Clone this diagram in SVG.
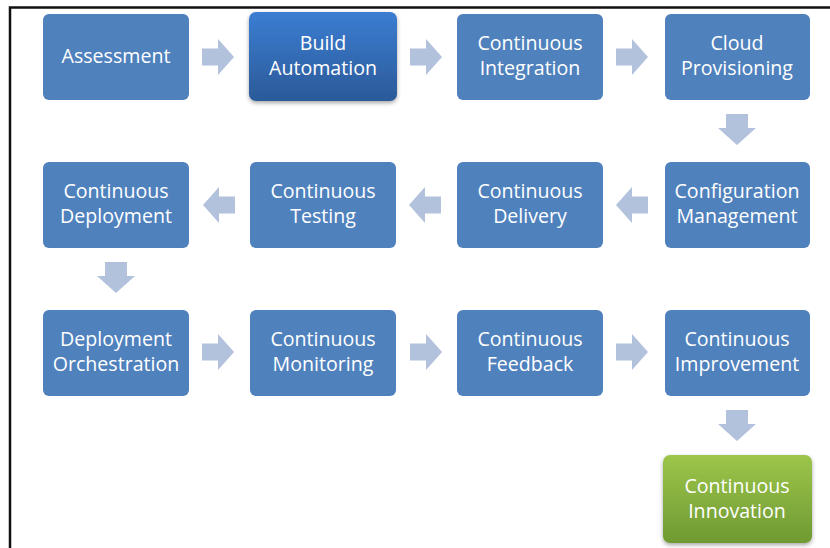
<svg xmlns="http://www.w3.org/2000/svg" width="830" height="548" viewBox="0 0 830 548">
<defs>
<linearGradient id="gBlue" x1="0" y1="0" x2="0" y2="1">
<stop offset="0" stop-color="#3B7DD2"/>
<stop offset="1" stop-color="#2B5A98"/>
</linearGradient>
<linearGradient id="gGreen" x1="0" y1="0" x2="0" y2="1">
<stop offset="0" stop-color="#9DC54B"/>
<stop offset="1" stop-color="#6E9A32"/>
</linearGradient>
<filter id="sh" x="-10%" y="-10%" width="120%" height="130%">
<feDropShadow dx="0" dy="2" stdDeviation="2" flood-color="#000" flood-opacity="0.35"/>
</filter>
<path id="arR" d="M0,-8.5 H16 V-18 L32,0 L16,18 V8.5 H0 Z"/>
<path id="arD" d="M-11,0 H11 V14 H19 L0,31 L-19,14 H-11 Z"/>
</defs>
<style>
.n{fill:#4F81BD}
.t{font-family:"Open Sans","DejaVu Sans",sans-serif;font-size:19.6px;fill:#fff;text-anchor:middle}
.a{fill:#B2C2DC}
</style>
<rect width="830" height="548" fill="#fff"/>
<path d="M10,548 V7.5 H830" fill="none" stroke="#111" stroke-width="2.5"/>
<g id="connectors">
<use href="#arR" class="a" x="202" y="57"/>
<use href="#arR" class="a" x="410" y="57"/>
<use href="#arR" class="a" x="616" y="57"/>
<use href="#arD" class="a" x="737" y="114"/>
<use href="#arR" class="a" transform="translate(648,205) scale(-1,1)"/>
<use href="#arR" class="a" transform="translate(441,205) scale(-1,1)"/>
<use href="#arR" class="a" transform="translate(235,205) scale(-1,1)"/>
<use href="#arD" class="a" x="116" y="262"/>
<use href="#arR" class="a" x="202" y="352"/>
<use href="#arR" class="a" x="410" y="352"/>
<use href="#arR" class="a" x="616" y="352"/>
<use href="#arD" class="a" x="737" y="410"/>
</g>
<g id="n1"><rect class="n" x="43" y="14" width="146" height="86" rx="6"/><text class="t" x="116" y="63">Assessment</text></g>
<g id="n2"><rect x="249" y="12" width="148" height="89" rx="7" fill="url(#gBlue)" filter="url(#sh)"/><text class="t" x="323" y="50">Build</text><text class="t" x="323" y="75">Automation</text></g>
<g id="n3"><rect class="n" x="457" y="14" width="146" height="86" rx="6"/><text class="t" x="530" y="50">Continuous</text><text class="t" x="530" y="75">Integration</text></g>
<g id="n4"><rect class="n" x="665" y="14" width="145" height="86" rx="6"/><text class="t" x="737" y="50">Cloud</text><text class="t" x="737" y="75">Provisioning</text></g>
<g id="n5"><rect class="n" x="665" y="162" width="145" height="86" rx="6"/><text class="t" x="737" y="198">Configuration</text><text class="t" x="737" y="223">Management</text></g>
<g id="n6"><rect class="n" x="457" y="162" width="146" height="86" rx="6"/><text class="t" x="530" y="198">Continuous</text><text class="t" x="530" y="223">Delivery</text></g>
<g id="n7"><rect class="n" x="250" y="162" width="146" height="86" rx="6"/><text class="t" x="323" y="198">Continuous</text><text class="t" x="323" y="223">Testing</text></g>
<g id="n8"><rect class="n" x="43" y="162" width="146" height="86" rx="6"/><text class="t" x="116" y="198">Continuous</text><text class="t" x="116" y="223">Deployment</text></g>
<g id="n9"><rect class="n" x="43" y="310" width="146" height="86" rx="6"/><text class="t" x="116" y="346">Deployment</text><text class="t" x="116" y="371">Orchestration</text></g>
<g id="n10"><rect class="n" x="250" y="310" width="146" height="86" rx="6"/><text class="t" x="323" y="346">Continuous</text><text class="t" x="323" y="371">Monitoring</text></g>
<g id="n11"><rect class="n" x="457" y="310" width="146" height="86" rx="6"/><text class="t" x="530" y="346">Continuous</text><text class="t" x="530" y="371">Feedback</text></g>
<g id="n12"><rect class="n" x="665" y="310" width="145" height="86" rx="6"/><text class="t" x="737" y="346">Continuous</text><text class="t" x="737" y="371">Improvement</text></g>
<g id="n13"><rect x="663" y="455" width="149" height="88" rx="7" fill="url(#gGreen)" filter="url(#sh)"/><text class="t" x="737" y="493">Continuous</text><text class="t" x="737" y="518">Innovation</text></g>
</svg>
